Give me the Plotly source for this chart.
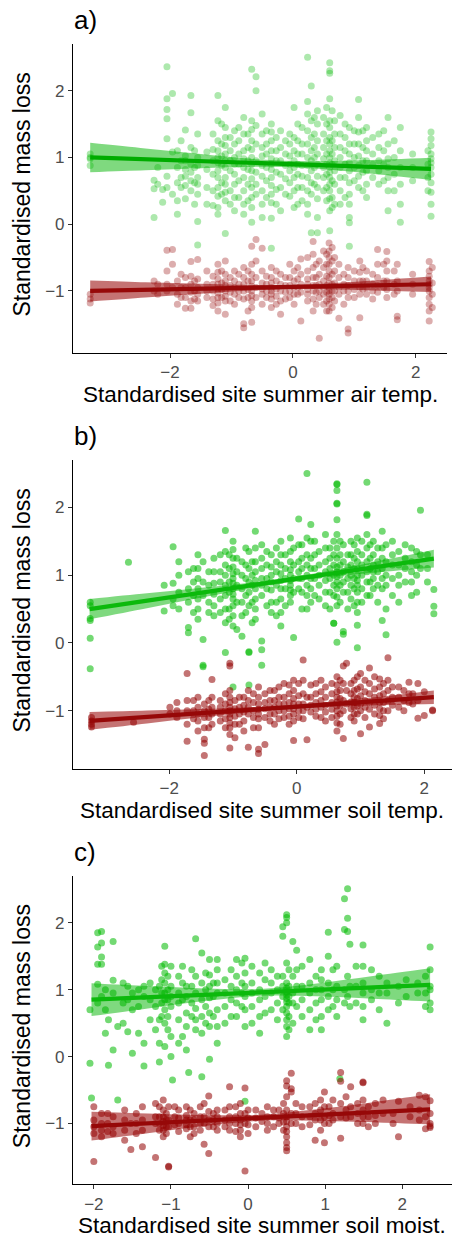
import plotly.graph_objects as go

# ---------------- data: (site x, [mass loss values]) ----------------
# Panel a: air temperature
a_green = [
    (-3.3, [1.05, 0.98, 0.88, 1.0]),
    (-2.26, [0.10, 0.66, 0.53]),
    (-2.2, [0.85, 0.6]),
    (-2.12, [0.33, 0.52]),
    (-2.05, [2.36, 1.88, 1.72, 1.58, 1.28, 0.72, 0.55]),
    (-1.96, [1.96, 1.08, 0.45]),
    (-1.88, [0.85, 0.62, 0.35, 0.15, 1.1]),
    (-1.82, [1.25, 0.95, 0.55, 0.7]),
    (-1.75, [1.41, 0.95, 0.72, 0.58, 0.38, 0.82, 1.02]),
    (-1.66, [1.93, 1.67, 1.15, 0.9, 0.78, 0.65, 0.5]),
    (-1.6, [1.1, 0.85, 0.62, 0.3]),
    (-1.55, [1.35, 1.0, 0.7, 0.45, 0.04, -0.31, 0.88, 0.6]),
    (-1.4, [1.08, 0.82, 0.55, 0.3]),
    (-1.3, [1.35, 1.12, 0.95, 0.75, 0.5, 0.28]),
    (-1.22, [1.93, 1.55, 1.25, 1.1, 1.0, 0.92, 0.8, 0.7, 0.55, 0.42, 0.25, 0.15]),
    (-1.16, [1.5, 1.2, 1.02, 0.88, 0.62, 0.45]),
    (-1.1, [1.75, 1.45, 1.3, 1.18, 1.05, 0.95, 0.85, 0.7, 0.6, 0.48, 0.35, -0.14]),
    (-1.02, [1.3, 1.1, 0.95, 0.8, 0.5, 0.3]),
    (-0.95, [1.4, 1.2, 1.0, 0.9, 0.75, 0.6, 0.4, 0.2]),
    (-0.88, [1.45, 1.25, 1.05, 0.9, 0.65, 0.4]),
    (-0.8, [1.6, 1.35, 1.1, 0.98, 0.85, 0.7, 0.5, 0.3, 0.15]),
    (-0.73, [1.35, 1.15, 0.95, 0.82, 0.6, 0.35]),
    (-0.67, [2.32, 1.55, 1.42, 1.25, 1.12, 1.0, 0.9, 0.8, 0.68, 0.55, 0.4, 0.25, 0.03]),
    (-0.6, [2.21, 2.0, 1.48, 1.2, 0.95, 0.78, 0.6, 0.45]),
    (-0.5, [1.65, 1.35, 1.15, 1.02, 0.88, 0.72, 0.5, 0.3, 0.1]),
    (-0.43, [1.4, 1.2, 1.05, 0.85, 0.65, 0.4]),
    (-0.35, [1.5, 1.38, 1.25, 1.1, 0.98, 0.9, 0.82, 0.7, 0.58, 0.45, 0.32, 0.09, -0.36]),
    (-0.27, [1.3, 1.1, 0.95, 0.78, 0.52, 0.3]),
    (-0.2, [1.4, 1.15, 0.95, 0.75, 0.55, 0.2]),
    (-0.12, [1.25, 1.05, 0.88, 0.68, 0.45]),
    (-0.05, [1.35, 1.2, 1.02, 0.9, 0.8, 0.62, 0.42]),
    (0.02, [1.75, 1.3, 1.1, 0.95, 0.85, 0.7, 0.5, 0.25]),
    (0.08, [1.5, 1.25, 1.05, 0.9, 0.75, 0.55, 0.3]),
    (0.15, [1.45, 1.2, 1.05, 0.88, 0.72, 0.55, 0.35]),
    (0.24, [2.50, 1.84, 1.65, 1.4, 1.2, 1.0, 0.88, 0.7, 0.5, 0.3, 0.15]),
    (0.3, [2.07, 1.55, 1.3, 1.1, 0.95, 0.8, 0.62, 0.45, -0.13]),
    (0.35, [1.6, 1.35, 1.15, 1.0, 0.85, 0.6]),
    (0.4, [1.7, 1.5, 1.25, 1.05, 0.9, 0.72, 0.55, 0.38, 0.1, -0.13]),
    (0.5, [1.6, 1.35, 1.15, 0.98, 0.85, 0.7, 0.5]),
    (0.55, [1.75, 1.5, 1.25, 1.05, 0.9, 0.75, 0.55, 0.35]),
    (0.6, [2.42, 2.3, 2.26, 1.88, 1.55, 1.45, 1.3, 1.2, 1.1, 1.0, 0.92, 0.85, 0.78, 0.7, 0.6, 0.5, 0.38, 0.2, -0.1]),
    (0.64, [1.7, 1.25, 1.05, 0.9, 0.65, 0.4, 0.25]),
    (0.68, [1.55, 1.35, 1.15, 0.95, 0.8, 0.6, 0.3]),
    (0.77, [1.63, 1.35, 1.15, 1.0, 0.85, 0.7, 0.5, 0.3]),
    (0.85, [1.5, 1.3, 1.1, 0.9, 0.7, 0.4]),
    (0.92, [1.45, 1.2, 1.05, 0.92, 0.8, 0.62, 0.45, 0.3, 0.1, 0.02, -0.33]),
    (1.0, [1.4, 1.2, 1.0, 0.85, 0.65]),
    (1.07, [1.87, 1.6, 1.38, 1.2, 1.02, 0.88, 0.72, 0.55]),
    (1.14, [1.4, 1.15, 0.95, 0.78, 0.5]),
    (1.2, [1.45, 1.25, 1.1, 0.95, 0.8, 0.6, 0.4]),
    (1.3, [1.3, 1.05, 0.9, 0.7]),
    (1.4, [1.35, 1.15, 0.95, 0.8, 0.6]),
    (1.48, [1.4, 1.1, 0.9, 0.65]),
    (1.55, [1.6, 1.2, 0.98, 0.85, 0.7, 0.5, 0.2]),
    (1.65, [1.25, 1.0, 0.75, 0.5]),
    (1.75, [1.45, 1.1, 0.85, 0.6, 0.03, 0.3]),
    (1.95, [1.05, 0.85, 0.65]),
    (2.2, [1.1, 0.9, 0.7, 0.5]),
    (2.25, [1.38, 1.28, 1.18, 1.05, 0.98, 0.92, 0.85, 0.75, 0.62, 0.48, 0.3, 0.12]),
]
a_red = [
    (-3.3, [-1.05, -1.12, -1.18]),
    (-2.26, [-0.85, -1.0]),
    (-2.2, [-0.9, -1.05]),
    (-2.05, [-0.39, -0.7, -0.9, -1.0]),
    (-1.96, [-0.38, -0.6, -0.95]),
    (-1.88, [-0.85, -1.05, -1.2]),
    (-1.82, [-0.75, -0.95, -1.1]),
    (-1.75, [-0.8, -0.95, -1.1, -1.26]),
    (-1.66, [-0.56, -0.78, -0.9, -1.02, -1.15, -1.26]),
    (-1.6, [-0.85, -1.0, -1.12]),
    (-1.55, [-0.53, -0.82, -0.95, -1.05, -1.15]),
    (-1.4, [-0.7, -0.9, -1.0, -1.1]),
    (-1.3, [-0.78, -0.9, -1.0, -1.12, -1.22]),
    (-1.22, [-0.6, -0.72, -0.82, -0.9, -0.97, -1.03, -1.1, -1.18, -1.3]),
    (-1.16, [-0.7, -0.88, -0.98, -1.1]),
    (-1.1, [-0.55, -0.75, -0.85, -0.92, -1.0, -1.08, -1.15, -1.35]),
    (-1.02, [-0.8, -0.92, -1.02, -1.15]),
    (-0.95, [-0.7, -0.85, -0.95, -1.05, -1.2]),
    (-0.88, [-0.75, -0.9, -1.0, -1.1]),
    (-0.8, [-0.65, -0.8, -0.9, -1.0, -1.12, -1.49, -1.55]),
    (-0.73, [-0.7, -0.85, -0.98, -1.1, -1.3]),
    (-0.67, [-0.33, -0.6, -0.75, -0.85, -0.93, -1.0, -1.07, -1.15, -1.25, -1.47]),
    (-0.6, [-0.23, -0.55, -0.8, -0.95, -1.1]),
    (-0.5, [-0.36, -0.7, -0.88, -0.97, -1.05, -1.2]),
    (-0.43, [-0.78, -0.9, -1.0, -1.1]),
    (-0.35, [-0.65, -0.8, -0.88, -0.95, -1.0, -1.05, -1.12, -1.25]),
    (-0.27, [-0.7, -0.85, -0.97, -1.08, -1.2]),
    (-0.2, [-0.75, -0.9, -1.0, -1.15, -1.35]),
    (-0.12, [-0.8, -0.92, -1.02, -1.12]),
    (-0.05, [-0.6, -0.8, -0.92, -1.0, -1.1]),
    (0.02, [-0.7, -0.85, -0.95, -1.05, -1.2]),
    (0.08, [-0.65, -0.82, -0.95, -1.05]),
    (0.13, [-0.75, -0.9, -1.02, -1.45, -0.52]),
    (0.24, [-0.5, -0.7, -0.82, -0.9, -0.98, -1.05, -1.15]),
    (0.33, [-0.26, -0.45, -0.65, -0.8, -0.92, -1.0, -1.12, -1.3]),
    (0.38, [-0.6, -0.8, -0.92, -1.02, -1.2]),
    (0.43, [-0.55, -0.75, -0.9, -1.0, -1.1, -1.71]),
    (0.5, [-0.4, -0.65, -0.85, -0.95, -1.05, -1.2]),
    (0.55, [-0.45, -0.6, -0.78, -0.92, -1.02, -1.15, -1.3]),
    (0.59, [-0.28, -0.4, -0.5, -0.6, -0.7, -0.8, -0.88, -0.95, -1.0, -1.05, -1.12, -1.2, -1.3]),
    (0.64, [-0.35, -0.55, -0.75, -0.9, -1.0, -1.1, -1.25]),
    (0.68, [-0.5, -0.7, -0.88, -1.0, -1.15]),
    (0.75, [-0.6, -0.8, -0.95, -1.05, -1.41]),
    (0.83, [-0.75, -0.9, -1.0, -1.2]),
    (0.9, [-0.65, -0.8, -0.92, -1.0, -1.1, -1.57, -1.63]),
    (1.0, [-0.7, -0.85, -0.98, -1.1]),
    (1.09, [-0.55, -0.72, -0.85, -0.95, -1.05, -1.40]),
    (1.14, [-0.65, -0.85, -0.97]),
    (1.2, [-0.7, -0.85, -0.95, -1.05]),
    (1.3, [-0.75, -0.9, -1.0, -1.12]),
    (1.38, [-0.38, -0.6, -0.8, -0.92, -1.02]),
    (1.48, [-0.6, -0.85, -0.95]),
    (1.53, [-0.41, -0.55, -0.7, -0.85, -0.98, -1.1]),
    (1.65, [-0.7, -0.9, -1.05]),
    (1.7, [-0.6, -0.85, -1.0, -1.38, -1.43]),
    (1.95, [-0.75, -0.9, -1.05]),
    (2.22, [-0.56, -0.7, -0.78, -0.85, -0.9, -0.95, -1.0, -1.1, -1.2, -1.3, -1.45]),
    (2.27, [-0.65, -0.88, -1.05, -1.25]),
]

# Panel b: soil temperature
b_green = [
    (-3.24, [0.36, 0.33, 0.07, -0.38, 0.55, 0.6]),
    (-2.64, [1.19]),
    (-2.08, [0.47, 0.85]),
    (-1.94, [1.42, 0.88, 0.65, 0.55]),
    (-1.85, [1.2, 1.0, 0.75, 0.5]),
    (-1.7, [1.05, 0.8, 0.6, 0.23, 0.15]),
    (-1.62, [1.1, 0.9, 0.7, 0.45]),
    (-1.55, [1.3, 1.1, 0.95, 0.8, 0.65, 0.5, 0.35]),
    (-1.47, [1.2, 0.9, 0.7, 0.05, -0.33, -0.35]),
    (-1.38, [1.05, 0.85, 0.6, 0.45]),
    (-1.3, [1.25, 1.05, 0.88, 0.72, 0.55, 0.4]),
    (-1.2, [1.3, 1.05, 0.9, 0.65, 0.45]),
    (-1.12, [1.66, 1.35, 1.15, 1.0, 0.85, 0.7, 0.5, 0.3, -0.14]),
    (-1.06, [1.3, 1.1, 0.9, 0.75, 0.5, 0.35]),
    (-1.0, [1.5, 1.38, 1.25, 1.12, 1.02, 0.95, 0.88, 0.8, 0.72, 0.65, 0.55, 0.4, 0.25, -0.65]),
    (-0.94, [1.25, 1.05, 0.85, 0.6, 0.2]),
    (-0.86, [1.2, 1.0, 0.8, 0.6, 0.4, 0.1]),
    (-0.8, [1.4, 1.15, 0.95, 0.7, 0.45]),
    (-0.75, [1.35, 1.1, 0.9, 0.75, 0.55, -0.13, -0.14, -0.62]),
    (-0.7, [1.2, 1.0, 0.85, 0.6, 0.3]),
    (-0.65, [1.65, 1.4, 1.2, 1.05, 0.92, 0.8, 0.65, 0.5, 0.35]),
    (-0.55, [1.45, 1.25, 1.1, 0.95, 0.85, 0.7, 0.03, -0.1, -0.33]),
    (-0.47, [1.35, 1.15, 0.95, 0.8, 0.55]),
    (-0.4, [1.3, 1.12, 1.0, 0.9, 0.78, 0.6, 0.45]),
    (-0.32, [1.4, 1.2, 1.05, 0.85, 0.6, 0.4]),
    (-0.25, [1.5, 1.3, 1.15, 1.02, 0.92, 0.8, 0.65, 0.45, 0.25]),
    (-0.18, [1.3, 1.1, 0.95, 0.8, 0.55]),
    (-0.1, [1.55, 1.35, 1.2, 1.08, 1.0, 0.92, 0.85, 0.78, 0.7, 0.6]),
    (-0.05, [1.4, 1.15, 0.95, 0.75, 0.08]),
    (0.03, [1.83, 1.45, 1.2, 1.05, 0.95, 0.8]),
    (0.08, [1.45, 1.25, 1.1, 0.95, 0.75, 0.5]),
    (0.16, [2.50, 1.55, 1.3, 1.15, 1.0, 0.85, 0.7, 0.5]),
    (0.22, [1.75, 1.5, 1.25, 1.1, 0.95, 0.8, 0.6]),
    (0.28, [1.5, 1.3, 1.1, 0.95, 0.7]),
    (0.35, [1.35, 1.15, 1.0, 0.85, 0.65]),
    (0.45, [1.6, 1.4, 1.2, 1.05, 0.92, 0.75, 0.55]),
    (0.52, [1.4, 1.25, 1.1, 0.95, 0.75, 0.5]),
    (0.58, [1.5, 1.3, 1.15, 1.0, 0.85, 0.7, 0.29, 0.29]),
    (0.63, [2.35, 2.34, 2.25, 2.06, 2.05, 1.82, 1.6, 1.4, 1.25, 1.12, 1.05, 0.98, 0.9, 0.8, 0.68, 0.55, 0.01]),
    (0.68, [1.5, 1.3, 1.15, 1.0, 0.85, 0.6]),
    (0.73, [1.45, 1.2, 1.05, 0.9, 0.75, 0.13, 0.17]),
    (0.8, [1.3, 1.12, 0.95, 0.75, 0.5]),
    (0.85, [1.5, 1.3, 1.15, 1.0, 0.85, 0.65]),
    (0.9, [1.45, 1.25, 1.1, 0.95, 0.8, 0.55]),
    (0.95, [1.55, 1.35, 1.2, 1.1, 1.0, 0.92, 0.85, 0.75, 0.6, 0.45, 0.26, -0.07]),
    (1.02, [1.5, 1.3, 1.15, 1.0, 0.8, 0.6]),
    (1.1, [2.37, 1.9, 1.88, 1.6, 1.4, 1.2, 1.05, 0.9, 0.7]),
    (1.15, [1.45, 1.25, 1.1, 0.9, 0.7]),
    (1.2, [1.5, 1.3, 1.15, 1.05, 0.95, 0.8]),
    (1.27, [1.4, 1.2, 1.05, 0.85, 0.6]),
    (1.34, [1.65, 1.4, 1.25, 1.1, 0.95, 0.8, 0.33]),
    (1.4, [1.45, 1.2, 1.0, 0.85, 0.12, 0.5]),
    (1.5, [1.5, 1.3, 1.15, 0.95, 0.7]),
    (1.6, [1.35, 1.15, 1.0, 0.85, 0.6]),
    (1.7, [1.45, 1.25, 1.1, 0.9]),
    (1.8, [1.4, 1.2, 1.05, 0.9, 0.7]),
    (1.88, [1.35, 1.15, 1.0, 0.75]),
    (1.94, [1.96, 1.3, 1.1]),
    (2.05, [1.3, 1.1, 0.9]),
    (2.15, [0.79, 0.54, 0.43]),
]
b_red = [
    (-3.22, [-1.1, -1.2, -1.24, -1.15]),
    (-2.56, [-1.17]),
    (-1.99, [-0.95, -1.05]),
    (-1.88, [-0.88, -1.0, -1.1]),
    (-1.72, [-0.45, -0.85, -1.0, -1.2, -1.45]),
    (-1.62, [-0.85, -1.0, -1.12]),
    (-1.55, [-0.8, -0.95, -1.05, -1.15, -1.3]),
    (-1.45, [-0.9, -1.0, -1.1, -1.25, -1.42, -1.48, -1.66]),
    (-1.38, [-0.85, -0.98, -1.1, -1.25]),
    (-1.33, [-0.54, -0.8, -0.95, -1.05, -1.2]),
    (-1.2, [-0.85, -0.95, -1.05, -1.15]),
    (-1.12, [-0.75, -0.9, -1.0, -1.12, -1.25]),
    (-1.05, [-0.3, -0.34, -0.7, -0.8, -0.88, -0.95, -1.0, -1.05, -1.1, -1.18, -1.25, -1.35, -1.55]),
    (-0.97, [-0.85, -0.97, -1.08, -1.2, -1.4]),
    (-0.9, [-0.8, -0.95, -1.05, -1.2]),
    (-0.83, [-0.8, -0.92, -1.02, -1.15, -1.3]),
    (-0.76, [-0.7, -0.85, -0.95, -1.05, -1.54]),
    (-0.68, [-0.75, -0.88, -1.0, -1.1, -1.25]),
    (-0.6, [-0.65, -0.8, -0.9, -0.98, -1.05, -1.12, -1.25, -1.57, -1.63]),
    (-0.5, [-0.75, -0.88, -0.97, -1.1, -1.5]),
    (-0.42, [-0.7, -0.85, -0.95, -1.05, -1.15]),
    (-0.35, [-0.7, -0.85, -0.95, -1.05, -1.2]),
    (-0.28, [-0.65, -0.8, -0.9, -1.0, -1.12]),
    (-0.2, [-0.6, -0.8, -0.9, -1.0, -1.1]),
    (-0.12, [-0.62, -0.75, -0.88, -0.97, -1.08, -1.2]),
    (-0.05, [-0.55, -0.7, -0.82, -0.9, -0.97, -1.05, -1.15, -1.44]),
    (0.03, [-0.6, -0.78, -0.9, -1.0, -1.1]),
    (0.1, [-0.25, -0.55, -0.75, -0.9, -1.0, -1.12]),
    (0.16, [-0.8, -0.95, -1.43]),
    (0.22, [-0.62, -0.8, -0.92, -1.02]),
    (0.3, [-0.6, -0.75, -0.88, -0.98, -1.08]),
    (0.38, [-0.55, -0.72, -0.85, -0.95, -1.1]),
    (0.45, [-0.65, -0.8, -0.92, -1.02, -1.15]),
    (0.55, [-0.6, -0.75, -0.88, -0.98, -1.1]),
    (0.63, [-0.5, -0.62, -0.72, -0.8, -0.87, -0.93, -1.0, -1.08, -1.18, -1.3]),
    (0.68, [-0.55, -0.7, -0.82, -0.92, -1.05, -1.2]),
    (0.73, [-0.34, -0.6, -0.85, -1.0, -1.41]),
    (0.78, [-0.3, -0.7, -0.9]),
    (0.85, [-0.6, -0.75, -0.87, -0.97, -1.1]),
    (0.9, [-0.55, -0.7, -0.8, -0.88, -0.95, -1.05, -1.15]),
    (0.95, [-0.5, -0.68, -0.82, -0.93, -1.05]),
    (1.0, [-0.45, -0.65, -0.78, -0.9, -1.0, -1.34]),
    (1.07, [-0.55, -0.72, -0.85, -0.95, -1.1]),
    (1.14, [-0.37, -0.6, -0.75, -0.88, -0.98, -1.24]),
    (1.22, [-0.5, -0.68, -0.8, -0.92, -1.05]),
    (1.3, [-0.53, -0.65, -0.78, -0.88, -0.97, -1.07, -1.19]),
    (1.36, [-0.6, -0.75, -0.88, -1.0, -1.12]),
    (1.43, [-0.22, -0.55, -0.7, -0.85, -1.0]),
    (1.5, [-0.65, -0.8, -0.92]),
    (1.6, [-0.65, -0.8, -0.95]),
    (1.68, [-0.7, -0.85, -1.0]),
    (1.76, [-0.58, -0.75, -0.88]),
    (1.82, [-0.75, -0.9]),
    (1.9, [-0.6, -0.85, -1.11]),
    (2.0, [-0.72, -1.07]),
    (2.13, [-0.99, -1.0]),
]

# Panel c: soil moisture
c_green = [
    (-2.05, [-0.1, 0.7]),
    (-2.03, [-0.62]),
    (-1.95, [1.85, 1.64, 1.38, 1.08, 0.8]),
    (-1.9, [1.87, 1.70, 1.49, 1.38, 0.9]),
    (-1.85, [1.0, 0.7, 0.35]),
    (-1.81, [-0.13, 0.55]),
    (-1.75, [1.72, 1.14, 0.1, 0.95]),
    (-1.69, [-0.65, 0.45]),
    (-1.62, [1.1, 0.8, 0.5]),
    (-1.56, [0.37, 0.85, 1.05]),
    (-1.5, [0.05, 0.7, 0.95]),
    (-1.42, [1.0, 0.75, 0.35]),
    (-1.35, [-0.14, 0.2, 0.9, 1.05]),
    (-1.27, [1.1, 0.85, 0.55]),
    (-1.2, [0.75, 0.4, 1.0]),
    (-1.15, [-0.08, 0.2, 0.55, 1.05]),
    (-1.12, [1.35, 1.15, 0.95, 0.8, 0.6]),
    (-1.08, [1.65, 1.38, 1.25, 1.1, 0.95, 0.85, 0.7, 0.5, 0.15]),
    (-1.04, [1.2, 1.0, 0.85, 0.6, 0.4]),
    (-1.0, [1.35, 1.05, 0.9, 0.75, 0.3, 0.0]),
    (-0.98, [-0.35]),
    (-0.9, [1.2, 0.95, 0.8, 0.55, 0.2]),
    (-0.85, [1.35, 1.1, 0.85, 0.3]),
    (-0.8, [1.05, 0.9, 0.65, 0.45, 0.1]),
    (-0.77, [-0.24]),
    (-0.73, [1.3, 1.05, 0.8, 0.6]),
    (-0.68, [1.76, 1.2, 0.95, 0.72, 0.55, 0.4]),
    (-0.6, [-0.3, 1.55, 1.1, 0.85, 0.6, 0.35]),
    (-0.55, [1.25, 1.0, 0.75, 0.5]),
    (-0.5, [-0.04, 1.45, 1.22, 1.05, 0.88, 0.65, 0.45]),
    (-0.45, [1.1, 0.9, 0.6]),
    (-0.4, [1.45, 1.3, 1.1, 0.95, 0.7, 0.45, 0.2]),
    (-0.3, [1.15, 0.95, 0.75, 0.5]),
    (-0.22, [1.3, 1.05, 0.85, 0.6]),
    (-0.15, [1.45, 1.2, 1.0, 0.8, 0.6]),
    (-0.08, [1.4, 1.1, 0.95, 0.75]),
    (-0.04, [-0.67, 1.47, 1.25, 1.05, 0.9, 0.7, 0.45]),
    (0.05, [1.35, 1.1, 0.95, 0.75, 0.5]),
    (0.15, [1.25, 1.0, 0.85, 0.6, 0.35]),
    (0.22, [1.4, 1.15, 0.9, 0.65]),
    (0.3, [1.3, 1.1, 0.95, 0.7]),
    (0.38, [1.2, 1.0, 0.8, 0.55]),
    (0.45, [1.94, 1.8, 1.2, 1.05, 0.9, 0.7]),
    (0.5, [2.12, 2.08, 2.0, 1.4, 1.1, 1.02, 0.97, 0.92, 0.87, 0.82, 0.75, 0.65, 0.55, 0.45, 0.3]),
    (0.53, [1.3, 1.05, 0.9, 0.8, 0.6, 0.4]),
    (0.58, [1.72, 1.2, 0.95, 0.8, 0.5]),
    (0.63, [1.59, 1.3, 1.05, 0.75]),
    (0.7, [1.35, 1.05, 0.85, 0.6]),
    (0.8, [1.45, 1.1, 0.95, 0.7, 0.4]),
    (0.88, [1.2, 1.0, 0.8, 0.55]),
    (0.95, [1.3, 1.15, 1.0, 0.85, 0.6, 0.4]),
    (1.04, [1.86, 1.5, 1.1, 0.9, 0.7]),
    (1.1, [1.3, 1.0, 0.75]),
    (1.15, [1.35, 1.05, 0.85, 0.6]),
    (1.19, [-0.33]),
    (1.25, [2.36, 1.9, 1.0, 0.8]),
    (1.29, [2.51, 2.07, 1.87, 1.2, 0.9]),
    (1.32, [1.68, 1.05, 0.75]),
    (1.4, [1.35, 1.05, 0.8]),
    (1.49, [1.67, 1.35, 1.1, 0.95, 0.75, 0.55]),
    (1.6, [1.3, 1.0, 0.85]),
    (1.7, [1.2, 0.95, 0.7]),
    (1.8, [1.1, 0.95, 0.5]),
    (1.95, [1.05, 0.8]),
    (2.05, [1.15, 0.9]),
    (2.2, [1.1, 0.95]),
    (2.3, [1.2, 0.95, 0.75]),
    (2.36, [1.64, 1.3, 1.05, 1.0, 0.8, 0.7]),
]
c_red = [
    (-2.0, [-0.75, -0.95, -1.05, -1.15, -1.57]),
    (-1.9, [-0.85, -1.0, -1.1, -1.2]),
    (-1.82, [-0.85, -1.0, -1.12]),
    (-1.75, [-0.9, -1.05, -1.15]),
    (-1.6, [-0.8, -0.95, -1.1, -1.25]),
    (-1.52, [-1.0, -1.39]),
    (-1.45, [-0.85, -1.0, -1.15]),
    (-1.37, [-0.75, -0.95, -1.1, -1.35]),
    (-1.2, [-0.7, -0.9, -1.0, -1.51]),
    (-1.15, [-0.75, -0.9, -1.0, -1.1]),
    (-1.1, [-0.65, -0.8, -0.9, -0.97, -1.03, -1.1, -1.2]),
    (-1.06, [-0.85, -0.95, -1.05, -1.15]),
    (-1.03, [-0.75, -0.95, -1.05, -1.64, -1.65]),
    (-0.95, [-0.75, -0.9, -1.02]),
    (-0.9, [-0.8, -0.92, -1.0, -1.12]),
    (-0.8, [-0.75, -0.88, -0.95, -1.02, -1.08]),
    (-0.75, [-0.8, -0.95, -1.05, -1.2]),
    (-0.7, [-0.85, -0.95, -1.05, -1.15]),
    (-0.62, [-0.75, -0.9, -1.0, -1.1]),
    (-0.57, [-0.7, -0.9, -1.0, -1.31]),
    (-0.51, [-0.59, -0.82, -0.95, -1.05, -1.45]),
    (-0.45, [-0.85, -0.95, -1.05]),
    (-0.4, [-0.8, -0.9, -1.0, -1.1]),
    (-0.3, [-0.8, -0.95, -1.05]),
    (-0.24, [-0.45, -0.75, -0.9, -1.0, -1.1]),
    (-0.16, [-0.75, -0.9, -1.0, -1.12]),
    (-0.1, [-0.7, -0.85, -0.95, -1.02, -1.1, -1.2]),
    (-0.04, [-0.47, -0.85, -1.0, -1.71]),
    (0.0, [-0.8, -0.92, -1.02, -1.15]),
    (0.1, [-0.8, -0.92, -1.05]),
    (0.18, [-0.85, -0.97]),
    (0.25, [-0.75, -0.9, -1.0, -1.1]),
    (0.33, [-0.8, -0.9, -1.05]),
    (0.4, [-0.8, -0.92, -1.0]),
    (0.46, [-0.7, -0.85, -0.98, -1.1]),
    (0.5, [-0.36, -0.44, -0.6, -0.8, -0.9, -0.97, -1.05, -1.12, -1.2, -1.29, -1.36, -1.41]),
    (0.56, [-0.25, -0.48, -0.53, -0.85, -1.0]),
    (0.62, [-0.7, -0.85, -1.0]),
    (0.7, [-0.75, -0.9, -1.05]),
    (0.8, [-0.75, -0.9, -1.02]),
    (0.87, [-0.7, -0.85, -0.95, -1.25]),
    (0.94, [-0.65, -0.8, -0.95, -1.1]),
    (0.99, [-0.53, -0.75, -0.9, -1.0, -1.29]),
    (1.05, [-0.75, -0.88, -1.0]),
    (1.1, [-0.65, -0.85, -0.95]),
    (1.2, [-0.24, -0.37, -0.7, -0.9, -1.22]),
    (1.27, [-0.6, -0.8, -0.92]),
    (1.33, [-0.45, -0.75, -0.9]),
    (1.42, [-0.7, -0.85, -1.0]),
    (1.49, [-0.38, -0.39, -0.65, -0.8, -0.9, -1.0]),
    (1.56, [-0.75, -0.9, -1.05]),
    (1.65, [-0.7, -0.88, -1.0]),
    (1.75, [-0.65, -0.85]),
    (1.88, [-0.85, -1.0]),
    (1.95, [-0.67, -1.2]),
    (2.1, [-0.75, -0.9]),
    (2.22, [-0.58, -0.8, -0.95]),
    (2.3, [-0.6, -0.9, -1.08]),
    (2.36, [-0.66, -0.85, -1.0, -1.04, -1.06]),
]

# Fitted lines with 95% confidence bands
a_fit_x = [-3.3, -2.4, -1.5, -0.6, 0.3, 1.2, 2.25]
a_green_fit = [1.0, 0.972, 0.945, 0.917, 0.89, 0.862, 0.83]
a_green_hi = [1.22, 1.135, 1.05, 0.973, 0.942, 0.961, 0.996]
a_green_lo = [0.78, 0.809, 0.84, 0.861, 0.838, 0.763, 0.664]
a_red_fit = [-1.0, -0.984, -0.968, -0.951, -0.935, -0.919, -0.90]
a_red_hi = [-0.843, -0.87, -0.894, -0.912, -0.899, -0.85, -0.783]
a_red_lo = [-1.157, -1.098, -1.042, -0.99, -0.971, -0.988, -1.017]

b_fit_x = [-3.25, -2.35, -1.45, -0.55, 0.35, 1.25, 2.15]
b_green_fit = [0.5, 0.624, 0.748, 0.872, 0.997, 1.121, 1.245]
b_green_hi = [0.65, 0.734, 0.818, 0.912, 1.037, 1.201, 1.375]
b_green_lo = [0.35, 0.514, 0.678, 0.832, 0.957, 1.041, 1.115]
b_red_fit = [-1.15, -1.092, -1.034, -0.975, -0.917, -0.859, -0.80]
b_red_hi = [-1.02, -0.997, -0.974, -0.942, -0.884, -0.799, -0.70]
b_red_lo = [-1.28, -1.187, -1.094, -1.008, -0.95, -0.919, -0.90]

c_fit_x = [-2.03, -1.3, -0.57, 0.16, 0.89, 1.62, 2.36]
c_green_fit = [0.85, 0.887, 0.924, 0.96, 0.997, 1.034, 1.071]
c_green_hi = [1.095, 1.054, 1.018, 1.01, 1.092, 1.203, 1.319]
c_green_lo = [0.605, 0.72, 0.83, 0.91, 0.902, 0.865, 0.823]
c_red_fit = [-1.04, -0.998, -0.957, -0.915, -0.873, -0.832, -0.79]
c_red_hi = [-0.825, -0.851, -0.874, -0.87, -0.788, -0.682, -0.565]
c_red_lo = [-1.255, -1.145, -1.04, -0.96, -0.958, -0.982, -1.015]

x_titles = ["Standardised site summer air temp.",
            "Standardised site summer soil temp.",
            "Standardised site summer soil moist."]
y_title = "Standardised mass loss"
panel_tags = ["a)", "b)", "c)"]

# ---------------- figure ----------------
W, H = 456, 1239
FONT = "Liberation Sans, Arial, Helvetica, sans-serif"


def expand(groups):
    xs, ys = [], []
    for sx, vals in groups:
        xs += [sx] * len(vals)
        ys += vals
    return xs, ys


fig = go.Figure()

panels = [
    dict(green=a_green, red=a_red, fx=a_fit_x,
         gf=a_green_fit, gh=a_green_hi, gl=a_green_lo,
         rf=a_red_fit, rh=a_red_hi, rl=a_red_lo, alpha=0.32,
         gline="rgb(0,172,0)"),
    dict(green=b_green, red=b_red, fx=b_fit_x,
         gf=b_green_fit, gh=b_green_hi, gl=b_green_lo,
         rf=b_red_fit, rh=b_red_hi, rl=b_red_lo, alpha=0.55,
         gline="rgb(12,185,12)"),
    dict(green=c_green, red=c_red, fx=c_fit_x,
         gf=c_green_fit, gh=c_green_hi, gl=c_green_lo,
         rf=c_red_fit, rh=c_red_hi, rl=c_red_lo, alpha=0.55,
         gline="rgb(12,185,12)"),
]

for i, p in enumerate(panels):
    ax = "" if i == 0 else str(i + 1)
    xa, ya = "x" + ax, "y" + ax
    gx, gy = expand(p["green"])
    rx, ry = expand(p["red"])
    al = p["alpha"]
    fig.add_trace(go.Scatter(x=gx, y=gy, mode="markers", xaxis=xa, yaxis=ya,
                             marker=dict(size=7, color=f"rgba(0,185,0,{al})", line=dict(width=0)),
                             hoverinfo="skip"))
    fig.add_trace(go.Scatter(x=rx, y=ry, mode="markers", xaxis=xa, yaxis=ya,
                             marker=dict(size=7, color=f"rgba(145,0,0,{al})", line=dict(width=0)),
                             hoverinfo="skip"))
    fx = p["fx"]
    for hi, lo, fit, fillc, linec in [
        (p["gh"], p["gl"], p["gf"], "rgba(0,180,0,0.5)", p["gline"]),
        (p["rh"], p["rl"], p["rf"], "rgba(150,0,0,0.55)", "rgb(150,8,8)"),
    ]:
        fig.add_trace(go.Scatter(x=fx, y=lo, mode="lines",
                                 line=dict(width=0, shape="spline", color="rgba(0,0,0,0)"),
                                 xaxis=xa, yaxis=ya, hoverinfo="skip"))
        fig.add_trace(go.Scatter(x=fx, y=hi, mode="lines", fill="tonexty", fillcolor=fillc,
                                 line=dict(width=0, shape="spline", color="rgba(0,0,0,0)"),
                                 xaxis=xa, yaxis=ya, hoverinfo="skip"))
        fig.add_trace(go.Scatter(x=fx, y=fit, mode="lines", line=dict(color=linec, width=4.2),
                                 xaxis=xa, yaxis=ya, hoverinfo="skip"))

# axis geometry (pixels)
geo = [
    dict(x0=73, x1=447, y0=44, y1=353, xr=[-3.58, 2.51], yr=[-1.93, 2.70], xt=[-2, 0, 2]),
    dict(x0=73, x1=451.7, y0=460, y1=769, xr=[-3.51, 2.43], yr=[-1.86, 2.70], xt=[-2, 0, 2]),
    dict(x0=73, x1=451.7, y0=876, y1=1184.3, xr=[-2.27, 2.64], yr=[-1.91, 2.70], xt=[-2, -1, 0, 1, 2]),
]

axis_common = dict(showgrid=False, zeroline=False, showline=True, linecolor="black",
                   linewidth=1.1, ticks="outside", ticklen=4, tickwidth=1.1, tickcolor="#333333",
                   tickfont=dict(family=FONT, size=17, color="#4D4D4D"), mirror=False)

annotations = []
for i, g in enumerate(geo):
    ax = "" if i == 0 else str(i + 1)
    fig.layout["xaxis" + ax] = dict(domain=[g["x0"] / W, g["x1"] / W], range=g["xr"],
                                    anchor="y" + ax, tickvals=g["xt"], **axis_common)
    fig.layout["yaxis" + ax] = dict(domain=[1 - g["y1"] / H, 1 - g["y0"] / H], range=g["yr"],
                                    anchor="x" + ax, tickvals=[-1, 0, 1, 2], **axis_common)
    annotations.append(dict(text=panel_tags[i], x=72 / W, y=1 - (g["y0"] - 24) / H,
                            xref="paper", yref="paper", xanchor="left", yanchor="middle",
                            showarrow=False, font=dict(family=FONT, size=26, color="black")))
    annotations.append(dict(text=y_title, x=22 / W, y=1 - ((g["y0"] + g["y1"]) / 2 - 4) / H,
                            xref="paper", yref="paper", xanchor="center", yanchor="middle",
                            textangle=-90, showarrow=False,
                            font=dict(family=FONT, size=23, color="black")))
    annotations.append(dict(text=x_titles[i], x=((g["x0"] + g["x1"]) / 2) / W,
                            y=1 - (g["y1"] + 41) / H,
                            xref="paper", yref="paper", xanchor="center", yanchor="middle",
                            showarrow=False, font=dict(family=FONT, size=22.5, color="black")))

fig.update_layout(width=W, height=H, margin=dict(l=0, r=0, t=0, b=0),
                  paper_bgcolor="white", plot_bgcolor="white", showlegend=False,
                  annotations=annotations, font=dict(family=FONT))

fig.write_html("out.html")
